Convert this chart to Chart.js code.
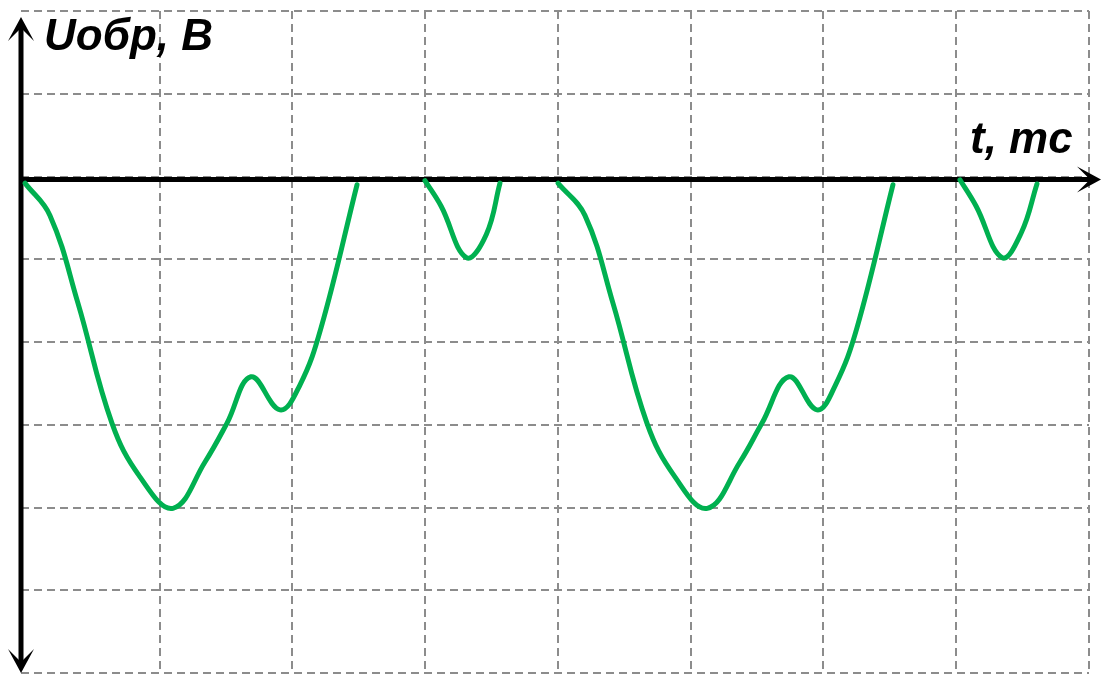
<!DOCTYPE html>
<html>
<head>
<meta charset="utf-8">
<script src="https://cdn.jsdelivr.net/npm/chart.js@4/dist/chart.umd.min.js"></script>
<style>
  body { margin: 0; background: #fff; }
  #wrap { position: relative; width: 1102px; height: 678px; }
  .lbl {
    position: absolute;
    font-family: "Liberation Sans", Arial, sans-serif;
    font-weight: bold;
    font-style: italic;
    font-size: 44px;
    line-height: 44px;
    color: #000;
    white-space: nowrap;
  }
</style>
</head>
<body>
<div id="wrap">
  <canvas id="chart" width="1102" height="678"></canvas>
  <div class="lbl" style="left:44px;top:13px">Uобр, В</div>
  <div class="lbl" style="left:970px;top:116px">t, mc</div>
</div>
<script>
// time in grid cells, voltage in grid cells (negative = below t axis)
var pulse1T = [-0.015, 0.173, 0.384, 0.64, 0.851, 1.10, 1.341, 1.507, 1.687, 1.906, 2.056, 2.215, 2.486];
var pulse1U = [-0.08, -0.47, -1.53, -2.98, -3.63, -4.01, -3.45, -2.98, -2.42, -2.82, -2.52, -1.83, -0.10];

var pulse2T = [2.998, 3.12, 3.31, 3.46, 3.563];
var pulse2U = [-0.05, -0.36, -0.98, -0.70, -0.08];

var pulse3T = [4.0, 4.203, 4.414, 4.67, 4.881, 5.125, 5.371, 5.537, 5.74, 5.951, 6.09, 6.252, 6.523];
var pulse3U = [-0.08, -0.47, -1.53, -2.98, -3.63, -4.01, -3.45, -2.98, -2.42, -2.82, -2.52, -1.83, -0.10];

var pulse4T = [7.028, 7.15, 7.345, 7.49, 7.608];
var pulse4U = [-0.04, -0.36, -0.98, -0.68, -0.09];

var xTicks = [1, 2, 3, 4, 5, 6, 7, 8];

function zip(t, u) {
  return t.map(function (v, i) { return { x: v, y: u[i] }; });
}

function pulse(t, u) {
  return {
    data: zip(t, u),
    borderColor: '#00b050',
    borderWidth: 5,
    borderCapStyle: 'round',
    pointRadius: 0,
    fill: false,
    tension: 0.4
  };
}

function arrow(ctx, tx, ty, dx, dy) {
  var len = 24, hw = 13, notch = 11;
  var px = -dy, py = dx;
  ctx.beginPath();
  ctx.moveTo(tx, ty);
  ctx.lineTo(tx - dx * len + px * hw, ty - dy * len + py * hw);
  ctx.lineTo(tx - dx * notch, ty - dy * notch);
  ctx.lineTo(tx - dx * len - px * hw, ty - dy * len - py * hw);
  ctx.closePath();
  ctx.fill();
}

// black axes with arrows
var axesLines = {
  id: 'axesLines',
  beforeDatasetsDraw: function (chart) {
    var ctx = chart.ctx, area = chart.chartArea;
    var y0 = chart.scales.y.getPixelForValue(0) + 3;
    var x0 = area.left;
    ctx.save();
    ctx.strokeStyle = '#000';
    ctx.fillStyle = '#000';
    ctx.lineWidth = 5;
    ctx.beginPath();
    ctx.moveTo(x0, area.top + 14);
    ctx.lineTo(x0, area.bottom - 8);
    ctx.moveTo(x0, y0);
    ctx.lineTo(chart.width - 10, y0);
    ctx.stroke();
    arrow(ctx, x0, area.top + 6, 0, -1);
    arrow(ctx, x0, area.bottom, 0, 1);
    arrow(ctx, chart.width - 1, y0, 1, 0);
    ctx.restore();
  }
};

new Chart(document.getElementById('chart'), {
  type: 'line',
  data: {
    datasets: [pulse(pulse1T, pulse1U), pulse(pulse2T, pulse2U), pulse(pulse3T, pulse3U), pulse(pulse4T, pulse4U)]
  },
  options: {
    responsive: false,
    animation: false,
    layout: { padding: { left: 21, right: 13, top: 11, bottom: 5 } },
    plugins: { legend: { display: false }, tooltip: { enabled: false } },
    scales: {
      x: {
        type: 'linear',
        min: -0.045,
        max: 8,
        afterBuildTicks: function (axis) {
          axis.ticks = xTicks.map(function (v) { return { value: v }; });
        },
        ticks: { display: false },
        grid: { color: '#8c8c8c', lineWidth: 2, drawTicks: false },
        border: { display: false, dash: [8, 5] }
      },
      y: {
        min: -6,
        max: 2,
        ticks: { display: false, stepSize: 1 },
        grid: { color: '#8c8c8c', lineWidth: 2, drawTicks: false },
        border: { display: false, dash: [8, 5] }
      }
    }
  },
  plugins: [axesLines]
});
</script>
</body>
</html>
